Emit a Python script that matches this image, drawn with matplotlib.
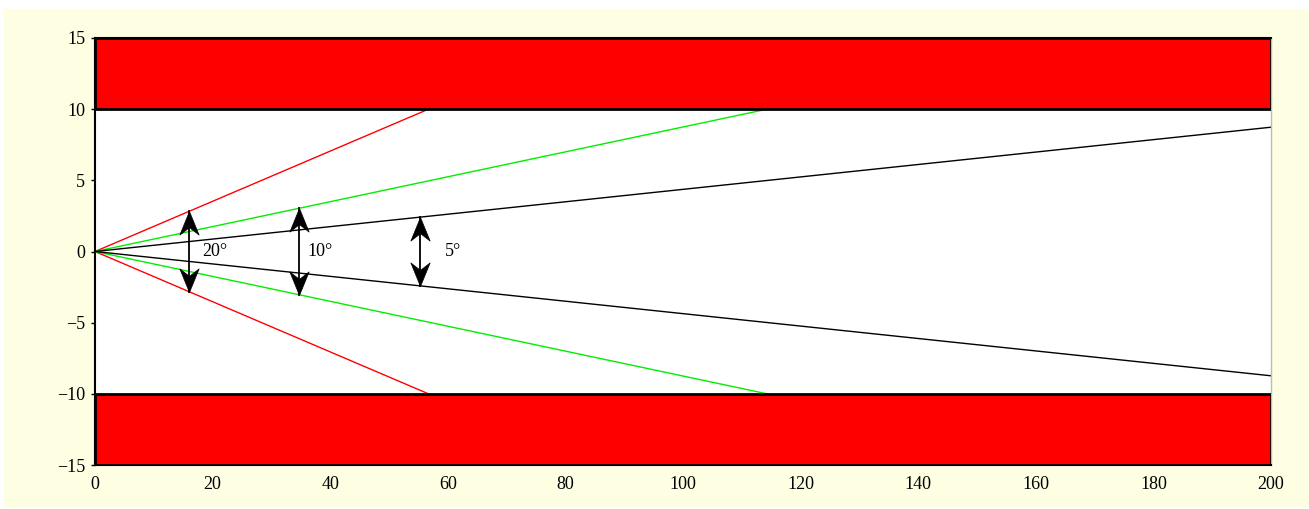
import numpy as np
import matplotlib.pyplot as plt
from matplotlib.patches import Rectangle
from matplotlib.path import Path

plt.rcParams['font.family'] = ['Liberation Serif', 'DejaVu Serif']

# full opening angles of the three beams (degrees) and their colours
angles = [20, 10, 5]
colors = ['#ff0000', '#00ee00', '#000000']
# x positions of the double arrows marking each angle
arrow_x = [16, 34.7, 55.3]
label_x = [18.2, 36.2, 59.5]

# walls
wall_y = [10, -15]
wall_h = 5
x_max = 200

# notched arrow head, tip at the origin, pointing up
head = np.array([[0, 0], [-0.45, -1.1], [0, -0.75], [0.45, -1.1], [0, 0]])
codes = [Path.MOVETO, Path.LINETO, Path.LINETO, Path.LINETO, Path.CLOSEPOLY]
head_up = Path(head, codes)
head_down = Path(head * [1, -1], codes)

fig = plt.figure(figsize=(13.09, 5.09), dpi=100)
fig.patch.set_facecolor('white')
fig.patches.append(Rectangle((4 / 1309, 2 / 509), 1, (509 - 11) / 509,
                             transform=fig.transFigure, facecolor='#fefee2',
                             edgecolor='none', zorder=-10))

ax = fig.add_axes([95 / 1309, 1 - 465 / 509, (1271 - 95) / 1309, (465 - 38) / 509])
ax.set_facecolor('white')

for y0 in wall_y:
    ax.add_patch(Rectangle((0, y0), x_max, wall_h, facecolor='#ff0000',
                           edgecolor='black', linewidth=2, zorder=3))

for ang, c, ax_x, lx in zip(angles, colors, arrow_x, label_x):
    t = np.tan(np.radians(ang / 2))
    x_end = min(10 / t, x_max)
    for s in (1, -1):
        ax.plot([0, x_end], [0, s * t * x_end], color=c, lw=1, zorder=2)
    h = t * ax_x
    ax.plot([ax_x, ax_x], [-h, h], color='black', lw=1.3, zorder=4)
    ax.plot([ax_x], [h], marker=head_up, ms=34, color='black', mew=0.5, zorder=4)
    ax.plot([ax_x], [-h], marker=head_down, ms=34, color='black', mew=0.5, zorder=4)
    ax.text(lx, 0, f'{ang}°', fontsize=13, va='center', ha='left')

ax.set_xlim(0, x_max)
ax.set_ylim(-15, 15)
ax.set_xticks(np.arange(0, 201, 20))
ax.set_yticks(np.arange(-15, 16, 5))
ax.tick_params(labelsize=13, length=3, width=1, pad=4)
ax.tick_params(axis='x', length=0, pad=8)

for side in ('left', 'bottom', 'top'):
    ax.spines[side].set_linewidth(1.5)
    ax.spines[side].set_color('black')
ax.spines['right'].set_color('#bbbbbb')
ax.spines['right'].set_linewidth(1)

fig.savefig('out.png', dpi=100, facecolor=fig.get_facecolor())
